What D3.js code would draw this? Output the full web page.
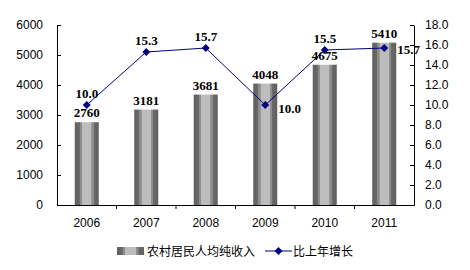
<!DOCTYPE html>
<html>
<head>
<meta charset="utf-8">
<script src="https://cdn.jsdelivr.net/npm/d3@7"></script>
<style>
  body { margin: 0; background: #fff; }
  svg text { font-family: "Liberation Sans", Arial, sans-serif; }
</style>
</head>
<body>
<div id="chart"></div>
<script>
// 数据
const years = ["2006", "2007", "2008", "2009", "2010", "2011"];
const income = [2760, 3181, 3681, 4048, 4675, 5410];
const growth = [10.0, 15.3, 15.7, 10.0, 15.5, 15.7];
const leftTicks = [0, 1000, 2000, 3000, 4000, 5000, 6000];
const rightTicks = [0, 2, 4, 6, 8, 10, 12, 14, 16, 18];
const seriesNames = ["农村居民人均纯收入", "比上年增长"];

const width = 470, height = 270;
const margin = { top: 25, right: 56, bottom: 65, left: 57 };

const svg = d3.select('#chart').append('svg')
    .attr('width', width)
    .attr('height', height);

// 柱子渐变
const grad = svg.append('defs').append('linearGradient')
    .attr('id', 'barGrad')
    .attr('x1', '0%').attr('x2', '100%').attr('y1', '0%').attr('y2', '0%');
[
  [0, '#5f5f5f'], [0.2, '#6a6a6a'], [0.21, '#8a8a8a'], [0.3, '#8f8f8f'],
  [0.31, '#bdbdbd'], [0.69, '#bdbdbd'], [0.7, '#8f8f8f'], [0.79, '#8a8a8a'],
  [0.8, '#6a6a6a'], [1, '#5f5f5f']
].forEach(([o, c]) => grad.append('stop').attr('offset', o).attr('stop-color', c));

const x = d3.scaleBand()
    .domain(years)
    .range([margin.left, width - margin.right]);

const yL = d3.scaleLinear().domain([0, 6000]).range([height - margin.bottom, margin.top]);
const yR = d3.scaleLinear().domain([0, 18]).range([height - margin.bottom, margin.top]);

const barW = 24;

// 柱子
svg.append('g').selectAll('rect')
    .data(years)
    .join('rect')
    .attr('x', d => x(d) + x.bandwidth() / 2 - barW / 2)
    .attr('width', barW)
    .attr('y', (d, i) => yL(income[i]))
    .attr('height', (d, i) => yL(0) - yL(income[i]))
    .attr('fill', 'url(#barGrad)');

// 坐标轴
const axisStyle = g => {
    g.select('.domain').attr('stroke', '#000');
    g.selectAll('.tick line').attr('stroke', '#000');
    g.selectAll('.tick text').attr('fill', '#000').style('font-size', '12px');
};

svg.append('g')
    .attr('transform', `translate(${margin.left},0)`)
    .call(d3.axisRight(yL).tickValues(leftTicks).tickSize(4).tickSizeOuter(0).tickFormat(d3.format('d')))
    .call(axisStyle)
    .call(g => g.selectAll('.tick text').attr('x', -14).attr('text-anchor', 'end'));

svg.append('g')
    .attr('transform', `translate(${width - margin.right},0)`)
    .call(d3.axisLeft(yR).tickValues(rightTicks).tickSize(4).tickSizeOuter(0).tickFormat(d3.format('.1f')))
    .call(axisStyle)
    .call(g => g.selectAll('.tick text').attr('x', 11).attr('text-anchor', 'start'));

const xAxis = svg.append('g')
    .attr('transform', `translate(0,${height - margin.bottom})`)
    .call(d3.axisBottom(x).tickSize(0).tickSizeOuter(0))
    .call(axisStyle)
    .call(g => g.selectAll('.tick text').attr('dy', '1.6em'));

// 类别之间的刻度
xAxis.selectAll('line.sep')
    .data(years.slice(1))
    .join('line')
    .attr('class', 'sep')
    .attr('x1', d => x(d)).attr('x2', d => x(d))
    .attr('y1', 0).attr('y2', 4)
    .attr('stroke', '#000');

// 折线
const cx = d => x(d) + x.bandwidth() / 2;
const line = d3.line()
    .x((d, i) => cx(years[i]))
    .y(d => yR(d));

svg.append('path')
    .datum(growth)
    .attr('fill', 'none')
    .attr('stroke', '#000080')
    .attr('stroke-width', 1)
    .attr('d', line);

// 菱形标记
const diamond = 'M0,-4L4,0L0,4L-4,0Z';
svg.append('g').selectAll('path')
    .data(growth)
    .join('path')
    .attr('transform', (d, i) => `translate(${cx(years[i])},${yR(d)})`)
    .attr('d', diamond)
    .attr('fill', '#000080');

// 数据标签
const labelFont = '"Liberation Serif", "Times New Roman", serif';
svg.append('g').selectAll('text')
    .data(income)
    .join('text')
    .attr('x', (d, i) => cx(years[i]))
    .attr('y', d => yL(d) - 5)
    .attr('text-anchor', 'middle')
    .style('font-family', labelFont)
    .style('font-weight', 'bold')
    .style('font-size', '13px')
    .text(d => d);

// 增长率标签，2009和2011放在右侧
const sideLabel = [false, false, false, true, false, true];
svg.append('g').selectAll('text')
    .data(growth)
    .join('text')
    .attr('x', (d, i) => sideLabel[i] ? cx(years[i]) + 13 : cx(years[i]))
    .attr('y', (d, i) => sideLabel[i] ? yR(d) + (i === 3 ? 8 : 6) : yR(d) - 7)
    .attr('text-anchor', (d, i) => sideLabel[i] ? 'start' : 'middle')
    .style('font-family', labelFont)
    .style('font-weight', 'bold')
    .style('font-size', '13px')
    .text(d => d.toFixed(1));

// 图例
const legend = svg.append('g').attr('transform', 'translate(117,251)');
legend.append('rect')
    .attr('x', 0).attr('y', -4).attr('width', 27).attr('height', 8)
    .attr('fill', 'url(#barGrad)');
legend.append('text')
    .attr('x', 30).attr('y', 5)
    .style('font-family', '"Noto Sans CJK SC", sans-serif')
    .style('font-size', '12px')
    .text(seriesNames[0]);
legend.append('line')
    .attr('x1', 148).attr('x2', 175).attr('y1', 0).attr('y2', 0)
    .attr('stroke', '#000080');
legend.append('path')
    .attr('transform', 'translate(161.5,0)')
    .attr('d', diamond)
    .attr('fill', '#000080');
legend.append('text')
    .attr('x', 176).attr('y', 5)
    .style('font-family', '"Noto Sans CJK SC", sans-serif')
    .style('font-size', '12px')
    .text(seriesNames[1]);
</script>
</body>
</html>
